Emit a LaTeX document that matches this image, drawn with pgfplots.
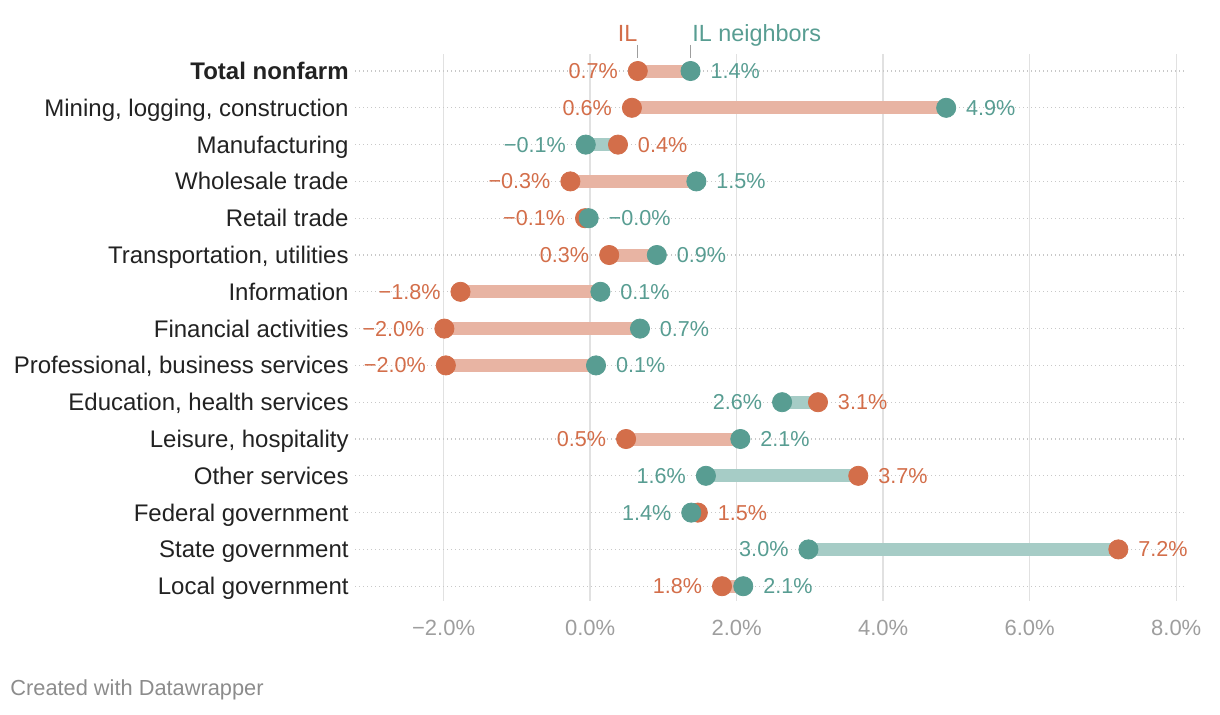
\documentclass[border=0pt]{standalone}
\usepackage{pgfplots}
\pgfplotsset{compat=1.18}
\usepackage{pgfplotstable}
\usepackage{fontspec}
\setmainfont{Liberation Sans}
\definecolor{ilc}{HTML}{D36E4A}
\definecolor{nbc}{HTML}{589D92}
\definecolor{ilbar}{HTML}{E8B4A3}
\definecolor{nbbar}{HTML}{A6CCC6}
\definecolor{lab}{HTML}{222222}
\definecolor{tickc}{HTML}{9E9E9E}
\definecolor{gridc}{HTML}{E1E1E1}
\definecolor{dotc}{HTML}{C8C8C8}
\definecolor{zeroc}{HTML}{BBBBBB}
\definecolor{footc}{HTML}{8C8C8C}
% label placed left (L) or right (R) of its dot
\newcommand\Lb[1]{\makebox[0pt][r]{#1\hspace{10pt}}}
\newcommand\Rb[1]{\makebox[0pt][l]{\hspace{10pt}#1}}

\pgfplotstableread{
idx il nb ilt nbt
0 0.65 1.37 \Lb{0.7\%} \Rb{1.4\%}
1 0.57 4.86 \Lb{0.6\%} \Rb{4.9\%}
2 0.38 -0.06 \Rb{0.4\%} \Lb{−0.1\%}
3 -0.27 1.45 \Lb{−0.3\%} \Rb{1.5\%}
4 -0.07 -0.02 \Lb{−0.1\%} \Rb{−0.0\%}
5 0.26 0.91 \Lb{0.3\%} \Rb{0.9\%}
6 -1.77 0.14 \Lb{−1.8\%} \Rb{0.1\%}
7 -1.99 0.68 \Lb{−2.0\%} \Rb{0.7\%}
8 -1.97 0.08 \Lb{−2.0\%} \Rb{0.1\%}
9 3.11 2.62 \Rb{3.1\%} \Lb{2.6\%}
10 0.49 2.05 \Lb{0.5\%} \Rb{2.1\%}
11 3.66 1.58 \Rb{3.7\%} \Lb{1.6\%}
12 1.47 1.38 \Rb{1.5\%} \Lb{1.4\%}
13 7.21 2.98 \Rb{7.2\%} \Lb{3.0\%}
14 1.80 2.09 \Lb{1.8\%} \Rb{2.1\%}
}\data

\begin{document}
\begin{tikzpicture}
\path[use as bounding box] (0,0) rectangle (610pt,357pt);
\begin{axis}[
  at={(177.5pt,56.54pt)}, anchor=south west,
  scale only axis, width=415pt, height=273.24pt,
  xmin=-3.21, xmax=8.12, ymin=-0.45, ymax=14.4,
  y dir=reverse, clip=false,
  axis line style={draw=none},
  major tick length=0pt,
  xtick={-2,0,2,4,6,8},
  xticklabels={−2.0\%,0.0\%,2.0\%,4.0\%,6.0\%,8.0\%},
  xticklabel style={anchor=north, inner sep=0pt, yshift=-9.5pt, text=tickc, font=\fontsize{11}{13}\selectfont},
  ytick={0,...,14},
  yticklabels={\textbf{Total nonfarm},{Mining, logging, construction},Manufacturing,Wholesale trade,Retail trade,{Transportation, utilities},Information,Financial activities,{Professional, business services},{Education, health services},{Leisure, hospitality},Other services,Federal government,State government,Local government},
  yticklabel style={anchor=base east, inner sep=0pt, xshift=-3pt, yshift=-4.2pt, text=lab, font=\fontsize{12}{14}\selectfont},
  xmajorgrids, ymajorgrids,
  x grid style={color=gridc, line width=0.7pt},
  y grid style={color=dotc, line width=0.6pt, dash pattern=on 0.6pt off 1.4pt},
  extra x ticks={0}, extra x tick labels={},
  extra x tick style={grid style={color=zeroc, line width=0.9pt, solid}},
]
% connecting bars: orange where IL is lower, teal where neighbors are lower
\addplot[only marks, mark=none, forget plot,
  error bars/.cd, x dir=plus, x explicit, error mark=none,
  error bar style={draw=ilbar, line width=6.5pt, line cap=butt}]
  table[x=il, y=idx, x error expr={max(0,\thisrow{nb}-\thisrow{il})}]{\data};
\addplot[only marks, mark=none, forget plot,
  error bars/.cd, x dir=plus, x explicit, error mark=none,
  error bar style={draw=nbbar, line width=6.5pt, line cap=butt}]
  table[x=nb, y=idx, x error expr={max(0,\thisrow{il}-\thisrow{nb})}]{\data};
% IL dots
\addplot[only marks, mark=*, mark size=4.8pt, color=ilc, mark options={draw=ilc, fill=ilc, line width=0.4pt},
  nodes near coords, point meta=explicit symbolic,
  nodes near coords style={anchor=center, inner sep=0pt, text=ilc, font=\fontsize{10.8}{13}\selectfont}]
  table[x=il, y=idx, meta=ilt]{\data};
% neighbors dots
\addplot[only marks, mark=*, mark size=4.8pt, color=nbc, mark options={draw=nbc, fill=nbc, line width=0.4pt},
  nodes near coords, point meta=explicit symbolic,
  nodes near coords style={anchor=center, inner sep=0pt, text=nbc, font=\fontsize{10.8}{13}\selectfont}]
  table[x=nb, y=idx, meta=nbt]{\data};
% header labels
\draw[color=tickc, line width=0.6pt] (axis cs:0.65,-0.71) -- (axis cs:0.65,-0.36);
\draw[color=tickc, line width=0.6pt] (axis cs:1.37,-0.71) -- (axis cs:1.37,-0.36);
\node[anchor=base east, inner sep=0pt, text=ilc, font=\fontsize{11.7}{13}\selectfont] at (axis cs:0.65,-0.79) {IL};
\node[anchor=base west, inner sep=0pt, text=nbc, font=\fontsize{11.7}{13}\selectfont] at (axis cs:1.39,-0.79) {IL neighbors};
\end{axis}
\node[anchor=west, inner sep=0pt, text=footc, font=\fontsize{10.9}{12}\selectfont] at (5pt,12pt) {Created with Datawrapper};
\end{tikzpicture}
\end{document}
